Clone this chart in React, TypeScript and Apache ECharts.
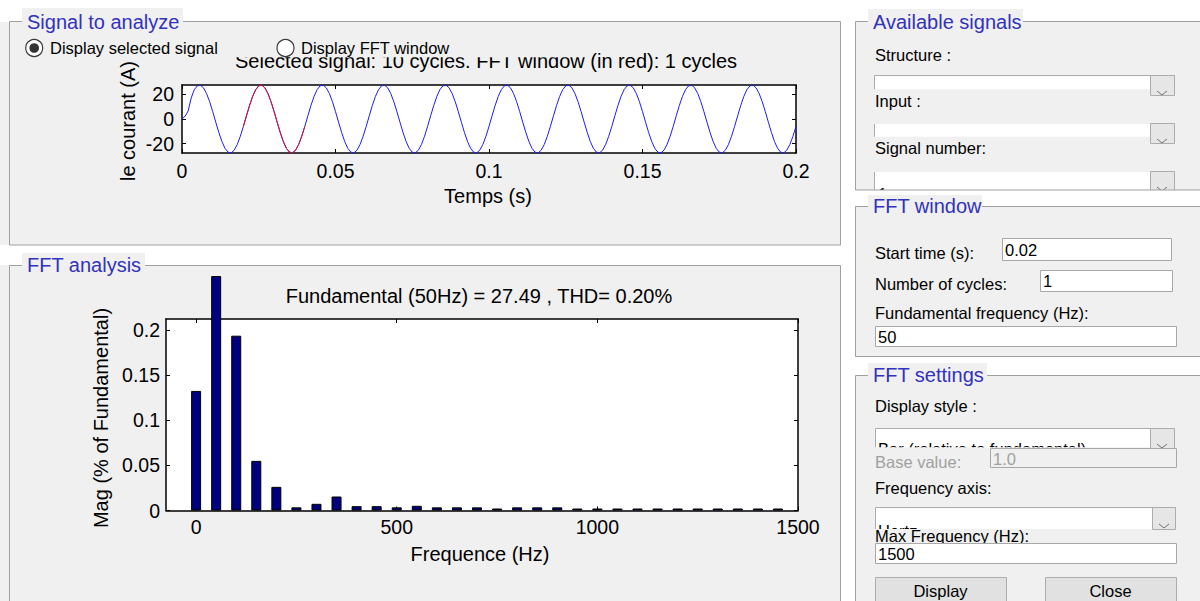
import React, { useEffect, useRef } from "react";
import * as echarts from "echarts";

// ---------- data ----------
const sampleStepS = 0.001; // sampling grid of the displayed signal (s)
// current samples (A), one per millisecond, t = 0 ... 0.2 s
const currentA = [
  0, 2.2, 6.5, 17.0, 23.7, 26.8, 27.4, 25.2, 20.6, 14.0, 6.0, -2.6, -10.9, -18.2, -23.7, -26.8, -27.4, -25.2, -20.6, -14.0,
  -6.0, 2.6, 10.9, 18.2, 23.7, 26.8, 27.4, 25.2, 20.6, 14.0, 6.0, -2.6, -10.9, -18.2, -23.7, -26.8, -27.4, -25.2, -20.6, -14.0,
  -6.0, 2.6, 10.9, 18.2, 23.7, 26.8, 27.4, 25.2, 20.6, 14.0, 6.0, -2.6, -10.9, -18.2, -23.7, -26.8, -27.4, -25.2, -20.6, -14.0,
  -6.0, 2.6, 10.9, 18.2, 23.7, 26.8, 27.4, 25.2, 20.6, 14.0, 6.0, -2.6, -10.9, -18.2, -23.7, -26.8, -27.4, -25.2, -20.6, -14.0,
  -6.0, 2.6, 10.9, 18.2, 23.7, 26.8, 27.4, 25.2, 20.6, 14.0, 6.0, -2.6, -10.9, -18.2, -23.7, -26.8, -27.4, -25.2, -20.6, -14.0,
  -6.0, 2.6, 10.9, 18.2, 23.7, 26.8, 27.4, 25.2, 20.6, 14.0, 6.0, -2.6, -10.9, -18.2, -23.7, -26.8, -27.4, -25.2, -20.6, -14.0,
  -6.0, 2.6, 10.9, 18.2, 23.7, 26.8, 27.4, 25.2, 20.6, 14.0, 6.0, -2.6, -10.9, -18.2, -23.7, -26.8, -27.4, -25.2, -20.6, -14.0,
  -6.0, 2.6, 10.9, 18.2, 23.7, 26.8, 27.4, 25.2, 20.6, 14.0, 6.0, -2.6, -10.9, -18.2, -23.7, -26.8, -27.4, -25.2, -20.6, -14.0,
  -6.0, 2.6, 10.9, 18.2, 23.7, 26.8, 27.4, 25.2, 20.6, 14.0, 6.0, -2.6, -10.9, -18.2, -23.7, -26.8, -27.4, -25.2, -20.6, -14.0,
  -6.0, 2.6, 10.9, 18.2, 23.7, 26.8, 27.4, 25.2, 20.6, 14.0, 6.0, -2.6, -10.9, -18.2, -23.7, -26.8, -27.4, -25.2, -20.6, -14.0,
  -6.0,
];
const fftWindowFirstSample = 20; // t = 0.02 s
const fftWindowLastSample = 40; // t = 0.04 s

const timeTicks = [0, 0.05, 0.1, 0.15, 0.2];
const currentTicks = [-20, 0, 20];

const harmonicHz = [
  0, 50, 100, 150, 200, 250, 300, 350, 400, 450, 500, 550, 600, 650, 700,
  750, 800, 850, 900, 950, 1000, 1050, 1100, 1150, 1200, 1250, 1300, 1350, 1400, 1450,
];
const magPctOfFundamental = [
  0.1325, 0.2598, 0.1937, 0.055, 0.0262, 0.0035, 0.0074, 0.0155, 0.0048, 0.0048, 0.0035, 0.0052, 0.0035, 0.0035, 0.0035,
  0.0022, 0.0035, 0.0035, 0.0035, 0.0022, 0.0022, 0.0022, 0.0022, 0.0022, 0.0022, 0.0022, 0.0022, 0.0022, 0.0022, 0.0022,
];
const freqTicks = [0, 500, 1000, 1500];
const magTicks = [0, 0.05, 0.1, 0.15, 0.2];

// ---------- style helpers ----------
const PLOT_FONT = "'Liberation Sans', Arial, sans-serif";
const GUI_FONT = "'Liberation Sans', Arial, sans-serif";
const PANEL = "#f0f0f0";
const EDGE = "#a0a0a0";
const TITLE_BLUE = "#3232be";

const rect = (x: number, y: number, w: number, h: number, fill: string, stroke: string | null, z: number) => ({
  type: "rect",
  silent: true,
  z,
  shape: { x, y, width: w, height: h },
  style: { fill, stroke: stroke || "none", lineWidth: 1 },
});

const txt = (
  x: number,
  y: number,
  text: string,
  z: number,
  opts: any = {}
) => ({
  type: "text",
  silent: true,
  z,
  x,
  y,
  rotation: opts.rotation || 0,
  style: {
    text,
    fill: opts.fill || "#000",
    fontSize: opts.fontSize || 16.5,
    fontFamily: opts.fontFamily || GUI_FONT,
    align: opts.align || "left",
    verticalAlign: "middle",
  },
});

const chevron = (cx: number, cy: number, z: number) => ({
  type: "polyline",
  silent: true,
  z,
  shape: { points: [[cx - 5, cy - 2], [cx, cy + 2], [cx + 5, cy - 2]] },
  style: { stroke: "#707070", lineWidth: 1, fill: "none" },
});

const circle = (cx: number, cy: number, r: number, fill: string, stroke: string | null, z: number) => ({
  type: "circle",
  silent: true,
  z,
  shape: { cx, cy, r },
  style: { fill, stroke: stroke || "none", lineWidth: 1.2 },
});

function buildGraphics() {
  const g: any[] = [];
  // ---- left panels ----
  g.push(rect(0, 22, 841, 223, PANEL, null, -10));
  g.push(rect(9.5, 21.5, 831, 223.5, "none", EDGE, -9));
  g.push(rect(22, 8, 161, 25, PANEL, null, -8));
  g.push(txt(27, 22, "Signal to analyze", -7, { fill: TITLE_BLUE, fontSize: 20 }));

  g.push(rect(0, 265, 841, 336, PANEL, null, -10));
  g.push(rect(9.5, 265.5, 831, 400, "none", EDGE, -9));
  g.push(rect(22, 253, 123, 24, PANEL, null, -8));
  g.push(txt(27, 265, "FFT analysis", -7, { fill: TITLE_BLUE, fontSize: 20 }));

  // plot texts
  g.push(
    txt(486, 60.5, "Selected signal: 10 cycles. FFT window (in red): 1 cycles", 1, {
      fontSize: 20,
      fontFamily: PLOT_FONT,
      align: "center",
    })
  );
  g.push(txt(488, 196, "Temps (s)", 1, { fontSize: 20, fontFamily: PLOT_FONT, align: "center" }));
  g.push(
    txt(127.5, 121, "le courant (A)", 1, {
      fontSize: 20,
      fontFamily: PLOT_FONT,
      align: "center",
      rotation: Math.PI / 2,
    })
  );
  g.push(
    txt(479, 295.5, "Fundamental (50Hz) = 27.49 , THD= 0.20%", 1, {
      fontSize: 20,
      fontFamily: PLOT_FONT,
      align: "center",
    })
  );
  g.push(txt(480, 554, "Frequence (Hz)", 1, { fontSize: 20, fontFamily: PLOT_FONT, align: "center" }));
  g.push(
    txt(101, 418, "Mag (% of Fundamental)", 1, {
      fontSize: 20,
      fontFamily: PLOT_FONT,
      align: "center",
      rotation: Math.PI / 2,
    })
  );

  // radio buttons row (covers top of the plot title)
  g.push(rect(20, 36, 570, 21.3, PANEL, null, 2));
  g.push(circle(34.2, 48, 8.5, "#fff", "#3c3c3c", 3));
  g.push(circle(34.2, 48, 4.8, "#333", null, 4));
  g.push(txt(50, 48, "Display selected signal", 4));
  g.push(circle(285.5, 48, 8.5, "#fff", "#3c3c3c", 3));
  g.push(txt(301, 47.5, "Display FFT window", 4));

  // ---- right: Available signals ----
  g.push(rect(855, 22, 345, 168, PANEL, null, -10));
  g.push(rect(855.5, 21.5, 400, 168.5, "none", EDGE, 6));
  g.push(rect(868, 9, 155, 23, PANEL, null, 7));
  g.push(txt(873, 21.5, "Available signals", 8, { fill: TITLE_BLUE, fontSize: 20 }));

  g.push(txt(875, 54.5, "Structure :", 1));
  g.push(rect(874.5, 75.5, 300, 20, "#fff", "#acacac", 1));
  g.push(rect(870, 89.3, 305, 34.7, PANEL, null, 2));
  g.push(txt(875, 101, "Input :", 3));
  g.push(rect(1150.5, 75.5, 24, 20, "#e6e6e6", "#acacac", 3));
  g.push(chevron(1162, 93, 4));

  g.push(rect(874.5, 123.5, 300, 20, "#fff", "#acacac", 1));
  g.push(rect(870, 136.7, 305, 35.3, PANEL, null, 2));
  g.push(txt(875, 147.5, "Signal number:", 3));
  g.push(rect(1150.5, 123.5, 24, 20, "#e6e6e6", "#acacac", 3));
  g.push(chevron(1162, 141, 4));

  g.push(rect(874.5, 171.5, 300, 24, "#fff", "#acacac", 1));
  g.push(txt(878, 194, "1", 2));
  g.push(rect(1150.5, 171.5, 24, 24, "#e6e6e6", "#acacac", 3));
  g.push(chevron(1162, 189, 4));
  g.push(rect(841.5, 190, 358.5, 16, "#fff", null, 5));

  // ---- right: FFT window ----
  g.push(rect(855, 206, 345, 151, PANEL, null, -10));
  g.push(rect(855.5, 206.5, 400, 150, "none", EDGE, 6));
  g.push(rect(868, 195, 114, 22, PANEL, null, 7));
  g.push(txt(873, 206, "FFT window", 8, { fill: TITLE_BLUE, fontSize: 20 }));

  g.push(txt(875, 252.5, "Start time (s):", 1));
  g.push(rect(1002.5, 238.5, 169, 22, "#fff", "#a8a8a8", 1));
  g.push(txt(1005, 250, "0.02", 2));
  g.push(txt(875, 283.5, "Number of cycles:", 1));
  g.push(rect(1040.5, 270.5, 132, 21, "#fff", "#a8a8a8", 1));
  g.push(txt(1043, 281, "1", 2));
  g.push(txt(875, 313, "Fundamental frequency (Hz):", 1));
  g.push(rect(875.5, 326.5, 301, 20, "#fff", "#a8a8a8", 1));
  g.push(txt(878, 337, "50", 2));

  // ---- right: FFT settings ----
  g.push(rect(855, 375, 345, 226, PANEL, null, -10));
  g.push(rect(855.5, 375.5, 400, 300, "none", EDGE, 6));
  g.push(rect(868, 363, 119, 24, PANEL, null, 7));
  g.push(txt(873, 375, "FFT settings", 8, { fill: TITLE_BLUE, fontSize: 20 }));

  g.push(txt(875, 406, "Display style :", 1));
  g.push(rect(875.5, 428.5, 299, 24, "#fff", "#acacac", 1));
  g.push(txt(878, 448.5, "Bar (relative to fundamental)", 2));
  g.push(rect(870, 447.3, 305, 59.7, PANEL, null, 3));
  g.push(rect(1150.5, 428.5, 24, 21.5, "#e6e6e6", "#acacac", 4));
  g.push(chevron(1162, 446, 5));
  g.push(txt(875, 461.5, "Base value:", 4, { fill: "#a0a0a0" }));
  g.push(rect(990.5, 448.5, 186, 19, PANEL, "#a8a8a8", 4));
  g.push(txt(993, 459, "1.0", 5, { fill: "#a0a0a0" }));
  g.push(txt(875, 488, "Frequency axis:", 4));

  g.push(rect(875.5, 507.5, 300, 26, "#fff", "#acacac", 5));
  g.push(txt(878, 530.5, "Hertz", 6));
  g.push(rect(870, 529, 310, 14, PANEL, null, 7));
  g.push(rect(1152.5, 507.5, 23, 22, "#e6e6e6", "#acacac", 8));
  g.push(chevron(1164, 526, 9));
  g.push(txt(875, 535.5, "Max Frequency (Hz):", 8));
  g.push(rect(875.5, 543.5, 301, 20, "#fff", "#a8a8a8", 8));
  g.push(txt(878, 553.5, "1500", 9));

  g.push(rect(875.5, 577.5, 131, 30, "#e1e1e1", "#adadad", 8));
  g.push(txt(940.5, 590.5, "Display", 9, { align: "center" }));
  g.push(rect(1045.5, 577.5, 131, 30, "#e1e1e1", "#adadad", 8));
  g.push(txt(1110.5, 590.5, "Close", 9, { align: "center" }));

  return g;
}

const axisLineStyle = { show: true, onZero: false, lineStyle: { color: "#000", width: 1.5 } };
const tickStyle = (values: number[]) => ({
  show: true,
  inside: true,
  length: 4,
  customValues: values,
  lineStyle: { color: "#000", width: 1 },
});
const labelStyle = (values: number[], margin: number, show = true) => ({
  show,
  customValues: values,
  margin,
  color: "#000",
  fontSize: 19.5,
  fontFamily: PLOT_FONT,
  formatter: (v: number) => String(v),
});

export default function App() {
  const ref = useRef<HTMLDivElement | null>(null);

  useEffect(() => {
    if (!ref.current) return;
    const chart = echarts.init(ref.current, undefined, { renderer: "svg" });

    const signalData = currentA.map((v, i) => [+(i * sampleStepS).toFixed(4), v]);
    const windowData = signalData.slice(fftWindowFirstSample, fftWindowLastSample + 1);
    const barData = harmonicHz.map((f, i) => [f, magPctOfFundamental[i]]);

    const option: any = {
      animation: false,
      backgroundColor: "#ffffff",
      textStyle: { fontFamily: PLOT_FONT },
      grid: [
        { left: 182, top: 85, width: 614, height: 68, show: true, backgroundColor: "#fff", borderWidth: 0, containLabel: false },
        { left: 166, top: 319, width: 632, height: 191.5, show: true, backgroundColor: "#fff", borderWidth: 0, containLabel: false },
      ],
      xAxis: [
        {
          gridIndex: 0, type: "value", position: "bottom", min: 0, max: 0.2,
          axisLine: axisLineStyle, axisTick: tickStyle(timeTicks), axisLabel: labelStyle(timeTicks, 8), splitLine: { show: false },
        },
        {
          gridIndex: 0, type: "value", position: "top", min: 0, max: 0.2,
          axisLine: axisLineStyle, axisTick: tickStyle(timeTicks), axisLabel: labelStyle(timeTicks, 8, false), splitLine: { show: false },
        },
        {
          gridIndex: 1, type: "value", position: "bottom", min: -75, max: 1500,
          axisLine: axisLineStyle, axisTick: tickStyle(freqTicks), axisLabel: labelStyle(freqTicks, 6), splitLine: { show: false },
        },
        {
          gridIndex: 1, type: "value", position: "top", min: -75, max: 1500,
          axisLine: axisLineStyle, axisTick: tickStyle(freqTicks), axisLabel: labelStyle(freqTicks, 6, false), splitLine: { show: false },
        },
      ],
      yAxis: [
        {
          gridIndex: 0, type: "value", position: "left", min: -27.5, max: 27.5,
          axisLine: axisLineStyle, axisTick: tickStyle(currentTicks), axisLabel: labelStyle(currentTicks, 8), splitLine: { show: false },
        },
        {
          gridIndex: 0, type: "value", position: "right", min: -27.5, max: 27.5,
          axisLine: axisLineStyle, axisTick: tickStyle(currentTicks), axisLabel: labelStyle(currentTicks, 8, false), splitLine: { show: false },
        },
        {
          gridIndex: 1, type: "value", position: "left", min: 0, max: 0.2122,
          axisLine: axisLineStyle, axisTick: tickStyle(magTicks), axisLabel: labelStyle(magTicks, 6), splitLine: { show: false },
        },
        {
          gridIndex: 1, type: "value", position: "right", min: 0, max: 0.2122,
          axisLine: axisLineStyle, axisTick: tickStyle(magTicks), axisLabel: labelStyle(magTicks, 6, false), splitLine: { show: false },
        },
      ],
      series: [
        {
          type: "line", xAxisIndex: 0, yAxisIndex: 0, data: signalData, showSymbol: false, symbol: "none",
          lineStyle: { color: "#1a1aff", width: 1 }, z: 3,
        },
        {
          type: "line", xAxisIndex: 0, yAxisIndex: 0, data: windowData, showSymbol: false, symbol: "none",
          lineStyle: { color: "#e0102a", width: 1 }, z: 4,
        },
        {
          type: "bar", xAxisIndex: 2, yAxisIndex: 2, data: barData, barWidth: 10, clip: false,
          itemStyle: { color: "#00007f", borderColor: "#000", borderWidth: 1 }, z: 3,
        },
      ],
      graphic: { elements: buildGraphics() },
    };

    chart.setOption(option);
    return () => chart.dispose();
  }, []);

  return (
    <div
      ref={ref}
      style={{ position: "absolute", left: 0, top: 0, width: 1200, height: 601, background: "#fff" }}
    />
  );
}
